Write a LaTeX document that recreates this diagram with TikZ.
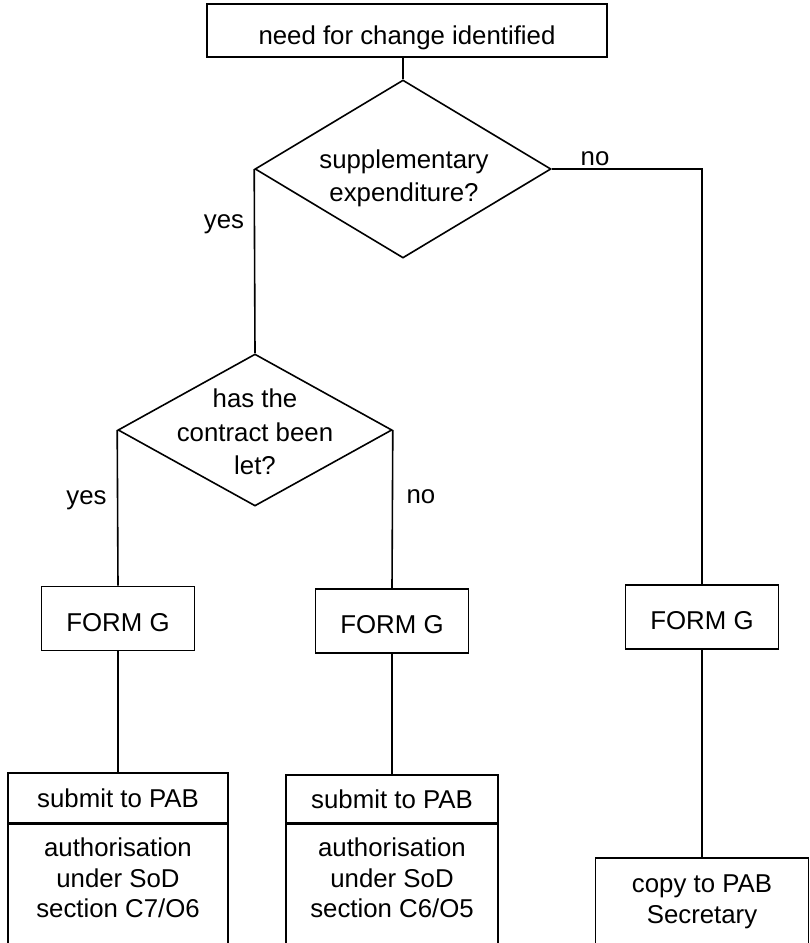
\documentclass[tikz,border=0pt]{standalone}
\usepackage{fontspec}
\setmainfont{Liberation Sans}
\usetikzlibrary{shapes.geometric}

\begin{document}
\begin{tikzpicture}[x=1pt, y=-1pt, line width=1.6pt,
  every node/.style={font=\fontsize{25.8}{31}\selectfont},
  box/.style={draw, rectangle, inner sep=0pt},
  formbox/.style={box, minimum width=153pt, minimum height=64pt,
                  text height=25pt, text depth=0pt},
  decision/.style={draw, diamond, inner sep=0pt},
  txt/.style={align=center, inner sep=0pt},
  answer/.style={anchor=base, inner sep=0pt}]

\useasboundingbox (0,0) rectangle (810,943);
\clip (0,0) rectangle (810,943);

% start and the two questions
\node[box, minimum width=400pt, minimum height=53pt,
      text height=30pt, text depth=1.4pt] (start) at (407,30.5) {need for change identified};

\node[decision, minimum width=296pt, minimum height=178pt] (q1) at (403,169) {};
\node[txt, font=\fontsize{25.8}{33}\selectfont] (q1text) at (404,178) {supplementary\\expenditure?};

\node[decision, minimum width=274pt, minimum height=152pt] (q2) at (255,430) {};
\node[txt, font=\fontsize{25.8}{33.5}\selectfont] (q2text) at (255,432) {has the\\contract been\\let?};

% forms
\node[formbox] (fg1) at (118,618.5) {FORM G};
\node[formbox] (fg2) at (392,621) {FORM G};
\node[formbox] (fg3) at (702,617) {FORM G};

% submissions
\node[box, minimum width=220pt, minimum height=50pt] (sub1) at (118,798) {submit to PAB};
\node[box, anchor=north, minimum width=220pt, minimum height=150pt] (auth1) at (118,823) {};
\node[txt, font=\fontsize{25.8}{30.5}\selectfont] (auth1text) at (118,878)
  {authorisation\\under SoD\\section C7/O6};

\node[box, minimum width=212pt, minimum height=48pt] (sub2) at (392,799) {submit to PAB};
\node[box, anchor=north, minimum width=212pt, minimum height=150pt] (auth2) at (392,823) {};
\node[txt, font=\fontsize{25.8}{30.5}\selectfont] (auth2text) at (392,878)
  {authorisation\\under SoD\\section C6/O5};

\node[box, anchor=north, minimum width=213pt, minimum height=120pt] (copy) at (702,857) {};
\node[txt] (copytext) at (702,902) {copy to PAB\\Secretary};

% connectors
\draw (q1.north) -- (q1.north |- start.south);
\draw (q1.west) -- (q2.north);
\draw (q1.east) -| (fg3.north);
\draw (q2.west) -- (fg1.north);
\draw (q2.east) -- (fg2.north);
\draw (fg1.south) -- (sub1.north);
\draw (fg2.south) -- (sub2.north);
\draw (fg3.south) -- (copy.north);

% answers
\node[answer] (no1) at (595,165) {no};
\node[answer] (yes1) at (224,228) {yes};
\node[answer] (yes2) at (86.5,504) {yes};
\node[answer] (no2) at (421,503) {no};
\end{tikzpicture}
\end{document}
